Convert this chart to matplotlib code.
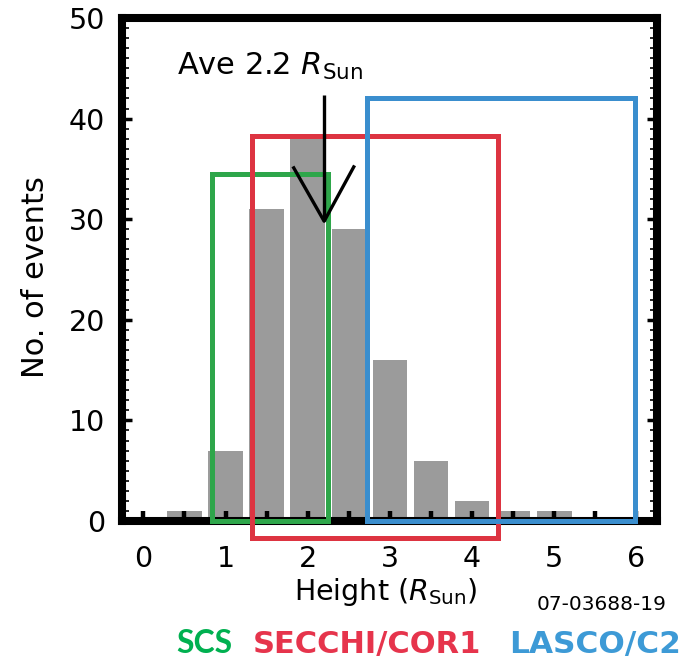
import matplotlib
matplotlib.use("Agg")
import matplotlib.pyplot as plt
from matplotlib.patches import Rectangle
import numpy as np

# ---- data ----
bin_centers = [0.5, 1.0, 1.5, 2.0, 2.5, 3.0, 3.5, 4.0, 4.5, 5.0]
counts = [1, 7, 31, 38, 29, 16, 6, 2, 1, 1]

instruments = ["SCS", "SECCHI/COR1", "LASCO/C2"]
inst_lo = [0.84, 1.32, 2.72]
inst_hi = [2.25, 4.32, 5.98]
inst_bottom = [0.0, -1.7, 0.0]
inst_top = [34.5, 38.3, 42.0]
box_colors = ["#2ea64a", "#dd3441", "#3a8ece"]
text_colors = ["#00b050", "#e6344c", "#3d9ad6"]

avg_height = 2.2
yticks = [0, 10, 20, 30, 40, 50]

plt.rcParams['font.family'] = ['DejaVu Sans']
plt.rcParams['mathtext.fontset'] = 'dejavusans'

W, H = 684, 659
fig = plt.figure(figsize=(W / 100, H / 100), dpi=100)
ax = fig.add_axes([122 / W, 1 - 521 / H, (657 - 122) / W, (521 - 18) / H])

ax.bar(bin_centers, counts, width=0.42, color="#9b9b9b", zorder=1)

ax.set_xlim(-0.26, 6.25)
ax.set_ylim(0, 50)

for s in ax.spines.values():
    s.set_linewidth(5.8)
    s.set_zorder(5)

xt = np.arange(0, 6.01, 0.5)
ax.set_xticks(xt)
ax.set_xticklabels([str(int(v)) if float(v).is_integer() else "" for v in xt])
ax.tick_params(axis='x', direction='in', length=7, width=3.2, pad=17,
               labelsize=20.5, top=False)
ax.set_yticks(yticks)
ax.set_yticks(np.arange(0, 50, 1), minor=True)
ax.tick_params(axis='y', which='major', direction='in', length=7, width=2.5,
               pad=12, labelsize=20.5, right=True)
ax.tick_params(axis='y', which='minor', direction='in', length=5, width=1.2,
               right=True)
ax.tick_params(axis='x', which='minor', bottom=False, top=False)

for lo, hi, b, t, c in zip(inst_lo, inst_hi, inst_bottom, inst_top, box_colors):
    ax.add_patch(Rectangle((lo, b), hi - lo, t - b, fill=False, edgecolor=c,
                           linewidth=3.6, clip_on=False, zorder=6))

# average arrow
ax.plot([avg_height, avg_height], [42.3, 29.8], color="black", lw=2.4,
        zorder=7, solid_capstyle='butt')
ax.plot([avg_height - 0.37, avg_height, avg_height + 0.36], [35.1, 29.8, 35.2],
        color="black", lw=2.4, zorder=7)
ax.text(0.41, 44.3, r"Ave 2.2 $R_{\mathrm{Sun}}$", fontsize=22,
        ha='left', va='baseline', zorder=8)

fig.text(36 / W, 1 - 277 / H, "No. of events", rotation=90, fontsize=22,
         ha='center', va='center')
fig.text(386 / W, 1 - 600 / H, r"Height ($R_{\mathrm{Sun}}$)", fontsize=20.5,
         ha='center', va='baseline')
fig.text(602 / W, 1 - 610 / H, "07-03688-19", fontsize=14.5,
         ha='center', va='baseline')

xs = [176, 253, 509]
fams = [['Lato', 'DejaVu Sans'], ['DejaVu Sans'], ['DejaVu Sans']]
sizes = [23, 22, 22.5]
for name, x0, c, fam, fs in zip(instruments, xs, text_colors, fams, sizes):
    fig.text(x0 / W, 1 - 653 / H, name, color=c, fontsize=fs,
             fontweight='bold', family=fam, ha='left', va='baseline')

fig.savefig("out.png", dpi=100)
